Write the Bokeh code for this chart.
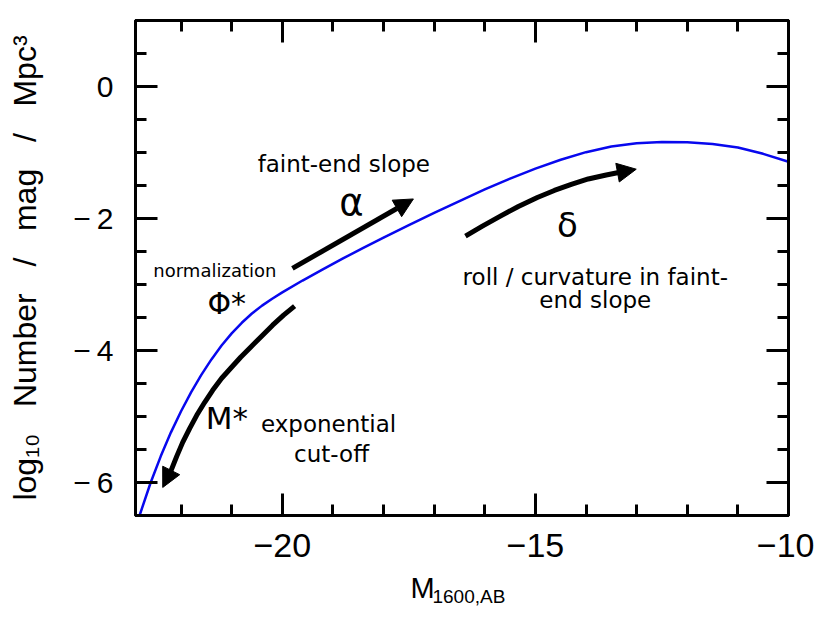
from bokeh.plotting import figure
from bokeh.layouts import column
from bokeh.models import Label, Arrow, NormalHead, LinearAxis, FixedTicker, Range1d
from bokeh.embed import file_html
from bokeh.resources import INLINE

# ---- data: luminosity function curve ----
M_mag = [-22.82, -22.6, -22.4, -22.2, -22.0, -21.8, -21.6, -21.4, -21.2, -21.0,
         -20.8, -20.6, -20.4, -20.2, -20.0, -19.6, -19.2, -18.8, -18.4, -18.0,
         -17.5, -17.0, -16.5, -16.0, -15.5, -15.0, -14.5, -14.0, -13.5, -13.0,
         -12.5, -12.0, -11.5, -11.0, -10.5, -10.0]
log_phi = [-6.5, -6.0, -5.6, -5.24, -4.92, -4.63, -4.37, -4.135, -3.925, -3.74,
           -3.58, -3.44, -3.32, -3.215, -3.12, -2.94, -2.77, -2.605, -2.445, -2.29,
           -2.10, -1.915, -1.735, -1.56, -1.395, -1.245, -1.11, -0.995, -0.91, -0.86,
           -0.84, -0.845, -0.87, -0.925, -1.02, -1.14]

# ---- ticks ----
x_major = [-20, -15, -10]
x_minor = [-22, -21, -19, -18, -17, -16, -14, -13, -12, -11]
y_major = [-6, -4, -2, 0]
y_minor = [-6.5, -5.5, -5, -4.5, -3.5, -3, -2.5, -1.5, -1, -0.5, 0.5, 1]
x_tick_labels = {-20: "\u221220", -15: "\u221215", -10: "\u221210"}
y_tick_labels = {-6: "\u2212\u20096", -4: "\u2212\u20094", -2: "\u2212\u20092", 0: "0"}

# ---- annotation arrows (parameter-effect arrows) ----
alpha_arrow_x = [-19.80, -17.41]
alpha_arrow_y = [-2.756, -1.704]
mstar_arrow_x = [-19.757, -19.974, -20.191, -20.409, -20.626, -20.823, -21.020, -21.198,
                 -21.376, -21.533, -21.691, -21.829, -21.968, -22.086, -22.204, -22.362]
mstar_arrow_y = [-3.328, -3.464, -3.616, -3.783, -3.950, -4.102, -4.269, -4.421,
                 -4.603, -4.785, -4.982, -5.179, -5.392, -5.604, -5.832, -6.075]
delta_arrow_x = [-16.382, -16.047, -15.692, -15.337, -14.962, -14.626, -14.291,
                 -13.956, -13.601, -13.305, -13.008]
delta_arrow_y = [-2.266, -2.115, -1.963, -1.818, -1.681, -1.575, -1.484,
                 -1.401, -1.340, -1.295, -1.253]

XR = (-22.9, -10)
NB = "\u00a0"

p = figure(width=814, height=573, x_range=Range1d(*XR), y_range=Range1d(-6.5, 1),
           output_backend="svg", toolbar_location=None, title=None,
           min_border_left=135, min_border_right=26, min_border_top=20, min_border_bottom=58)
p.grid.visible = False
p.outline_line_color = "black"
p.outline_line_width = 3
p.background_fill_color = "white"
p.border_fill_color = "white"

def style_axis(ax, ticker, overrides, size, standoff, show=True):
    ax.ticker = ticker
    ax.axis_line_width = 3
    ax.major_tick_line_width = 3
    ax.minor_tick_line_width = 3
    ax.major_tick_in = 22
    ax.major_tick_out = 0
    ax.minor_tick_in = 11
    ax.minor_tick_out = 0
    ax.major_label_overrides = overrides
    ax.major_label_text_font = "Liberation Sans"
    ax.major_label_text_font_size = size
    ax.major_label_text_color = "black" if show else None
    ax.major_label_standoff = standoff

style_axis(p.xaxis[0], FixedTicker(ticks=x_major, minor_ticks=x_minor), x_tick_labels, "34px", 18)
style_axis(p.yaxis[0], FixedTicker(ticks=y_major, minor_ticks=y_minor), y_tick_labels, "30px", 22)

ya = p.yaxis[0]
ya.axis_label = ("log\u2081\u2080" + NB * 3 + "Number" + NB * 3 + "/" + NB * 3 + "mag"
                 + NB * 3 + "/" + NB * 3 + "Mpc\u00b3")
ya.axis_label_text_font = "Liberation Sans"
ya.axis_label_text_font_size = "32px"
ya.axis_label_text_font_style = "normal"
ya.axis_label_text_color = "black"
ya.axis_label_standoff = 27

top = LinearAxis()
style_axis(top, FixedTicker(ticks=x_major, minor_ticks=x_minor), {}, "0px", 0, show=False)
p.add_layout(top, "above")
right = LinearAxis()
style_axis(right, FixedTicker(ticks=y_major, minor_ticks=y_minor), {}, "0px", 0, show=False)
p.add_layout(right, "right")

# curve
p.line(M_mag, log_phi, line_color="#0808ee", line_width=2.5, line_join="round")

# arrows
def head():
    return NormalHead(size=19, fill_color="black", line_color="black", line_width=1)

p.add_layout(Arrow(end=head(), x_start=alpha_arrow_x[0], y_start=alpha_arrow_y[0],
                   x_end=alpha_arrow_x[1], y_end=alpha_arrow_y[1], line_width=5, line_color="black"))
p.line(mstar_arrow_x[:-1], mstar_arrow_y[:-1], line_color="black", line_width=5, line_join="round")
p.add_layout(Arrow(end=head(), x_start=mstar_arrow_x[-2], y_start=mstar_arrow_y[-2],
                   x_end=mstar_arrow_x[-1], y_end=mstar_arrow_y[-1], line_width=5, line_color="black"))
p.line(delta_arrow_x[:-1], delta_arrow_y[:-1], line_color="black", line_width=5, line_join="round")
p.add_layout(Arrow(end=head(), x_start=delta_arrow_x[-2], y_start=delta_arrow_y[-2],
                   x_end=delta_arrow_x[-1], y_end=delta_arrow_y[-1], line_width=5, line_color="black"))

def lab(fig, x, y, text, size, align="center", font="DejaVu Sans", px_per_unit=66.0):
    fs = float(size.replace("px", ""))
    y_adj = y + 0.346 * fs / px_per_unit   # text box centre sits on the anchor
    fig.add_layout(Label(x=x, y=y_adj, text=text, text_font=font, text_font_size=size,
                         text_align=align, text_baseline="alphabetic", text_color="black"))

lab(p, -20.487, -1.294, "faint-end slope", "23px", align="left")
lab(p, -18.632, -1.947, "\u03b1", "37px")
lab(p, -21.332, -2.883, "normalization", "18px")
lab(p, -21.48, -3.439, "\u03a6*", "30px", align="left")
lab(p, -21.514, -5.18, "M*", "31px", align="left")
lab(p, -19.086, -5.24, "exponential", "23px")
lab(p, -19.027, -5.69, "cut-off", "23px")
lab(p, -14.37, -2.281, "\u03b4", "34px")
lab(p, -13.817, -3.011, "roll / curvature in faint-", "23px")
lab(p, -13.817, -3.36, "end slope", "23px")

# x-axis title strip (M with subscript), sharing the x scale
p2 = figure(width=814, height=34, x_range=p.x_range, y_range=Range1d(0, 34),
            output_backend="svg", toolbar_location=None, title=None,
            x_axis_type=None, y_axis_type=None,
            min_border_left=135, min_border_right=26, min_border_top=0, min_border_bottom=0)
p2.grid.visible = False
p2.outline_line_color = None
p2.background_fill_color = "white"
p2.border_fill_color = "white"
lab(p2, -17.468, 9, "M", "29px", align="left", font="Liberation Sans", px_per_unit=1.0)
lab(p2, -17.034, 4.5, "1600,AB", "19px", align="left", font="Liberation Sans", px_per_unit=1.0)

layout = column(p, p2, spacing=0)
open("out.html", "w").write(file_html(layout, INLINE))
